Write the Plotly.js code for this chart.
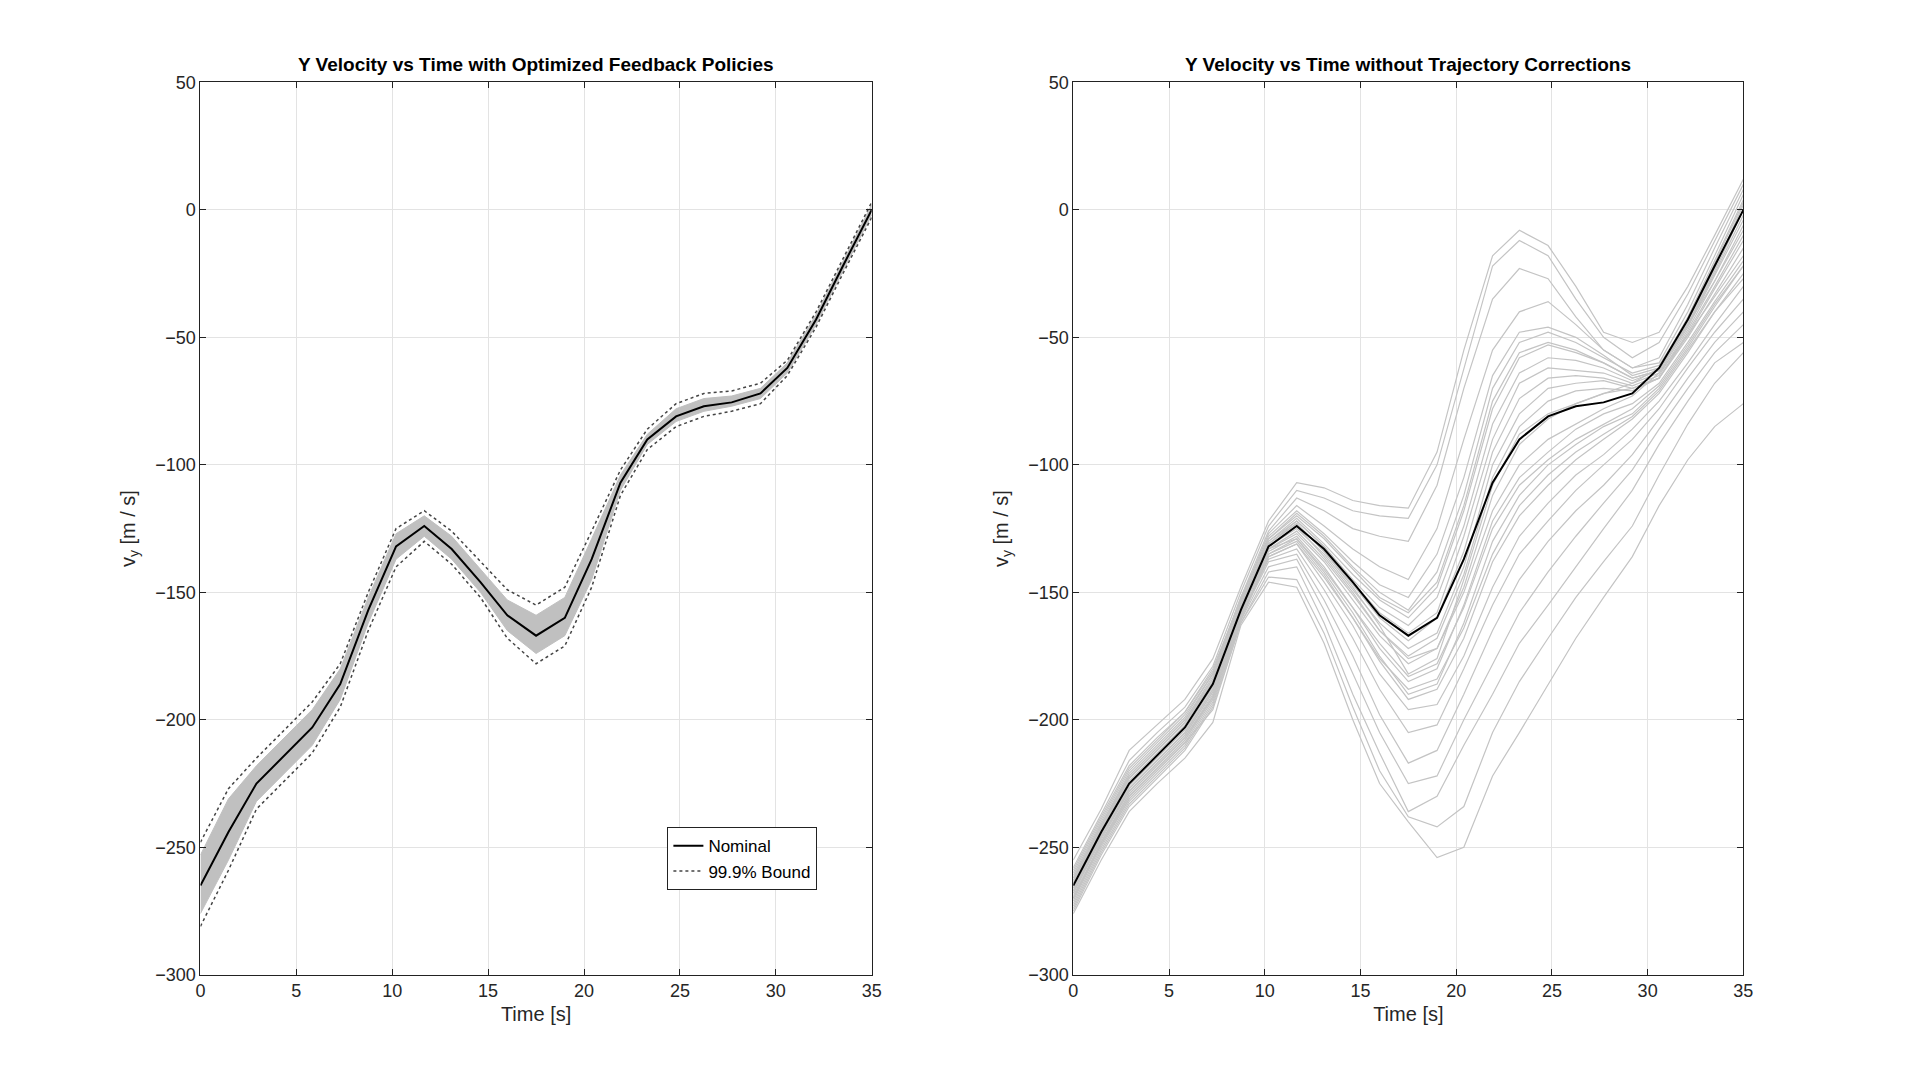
<!DOCTYPE html>
<html>
<head>
<meta charset="utf-8">
<script src="https://cdn.plot.ly/plotly-3.0.1.min.js"></script>
<style>html,body{margin:0;padding:0;background:#fff;}#chart{width:1920px;height:1091px;}</style>
</head>
<body>
<div id="chart"></div>
<script>
// time samples (s)
const TIME = [0, 1.46, 2.92, 4.38, 5.83, 7.29, 8.75, 10.2, 11.67, 13.1, 14.6, 16.0, 17.5,
              19.0, 20.4, 21.9, 23.3, 24.8, 26.25, 27.7, 29.2, 30.6, 32.1, 33.5, 35];

// nominal trajectory
const NOMINAL = [-265, -244, -225, -214, -203, -186, -157, -132, -124, -133, -146, -159, -167,
                 -160, -137, -107, -90, -81, -77, -75.5, -72, -62, -43, -22, 0];

// 99.9% bounds (left panel)
const BOUND_UP = [-248, -227, -215, -204, -193, -178, -150, -125, -118, -126, -138, -149, -155,
                  -148, -126, -102, -86, -76, -72, -71, -68, -59, -40, -19, 3];
const BOUND_LO = [-281, -259, -235, -224, -213, -195, -165, -140, -130, -139, -152, -168, -178,
                  -171, -148, -112, -94, -85, -81, -79, -76, -65, -46, -25, -3];

// dense Monte Carlo band with feedback (left panel)
const BAND_UP = [-253, -231, -218, -207, -196, -180, -152, -127, -120, -128, -141, -153, -159,
                 -152, -129, -104, -88, -78, -74, -73, -70, -60, -41, -20, 2];
const BAND_LO = [-276, -255, -232, -221, -210, -192, -162, -137, -128, -137, -150, -165, -174,
                 -167, -145, -110, -92, -83, -79, -77, -74, -64, -45, -24, -2];

// open-loop Monte Carlo runs (right panel)
const RUNS = [
  [-255,-235,-212,-202,-192,-176,-148,-122,-107,-109,-114,-116,-117,-95,-55,-18,-8,-14,-30,-48,-52,-48,-30,-10,12],
  [-258,-237,-216,-205,-195,-179,-150,-124,-110,-113,-118,-120,-121,-100,-62,-22,-12,-18,-35,-50,-58,-52,-33,-12,10],
  [-260,-239,-219,-208,-197,-181,-152,-126,-113,-118,-125,-128,-130,-108,-70,-35,-23,-27,-42,-55,-62,-58,-37,-15,8],
  [-262,-241,-221,-210,-199,-182,-153,-127,-116,-124,-133,-140,-145,-125,-90,-55,-40,-36,-45,-55,-62,-60,-40,-18,6],
  [-263,-242,-222,-211,-200,-183,-154,-128,-118,-127,-138,-147,-152,-135,-105,-65,-48,-46,-50,-57,-65,-62,-42,-20,4],
  [-266,-245,-226,-215,-204,-187,-156,-130,-121,-131,-143,-153,-160,-148,-118,-78,-58,-53,-56,-60,-66,-63,-44,-23,2],
  [-268,-247,-228,-217,-206,-189,-158,-131,-122,-132,-146,-158,-166,-158,-128,-90,-68,-62,-63,-64,-68,-64,-46,-26,-4],
  [-270,-248,-229,-218,-207,-190,-159,-132,-125,-135,-149,-162,-172,-166,-140,-100,-80,-70,-68,-67,-70,-66,-48,-30,-10],
  [-264,-243,-224,-213,-202,-185,-157,-133,-127,-138,-153,-167,-178,-172,-148,-112,-92,-82,-76,-72,-70,-66,-50,-33,-15],
  [-267,-246,-227,-216,-205,-188,-158,-134,-128,-140,-156,-172,-185,-180,-155,-122,-105,-95,-86,-80,-76,-68,-52,-36,-20],
  [-272,-250,-231,-220,-209,-192,-160,-135,-130,-143,-160,-177,-192,-188,-168,-138,-120,-108,-98,-90,-82,-72,-56,-40,-25],
  [-259,-238,-218,-207,-197,-180,-153,-133,-129,-142,-158,-175,-190,-186,-162,-130,-112,-100,-92,-85,-80,-70,-54,-38,-22],
  [-274,-252,-233,-222,-211,-194,-161,-136,-131,-146,-163,-182,-196,-194,-175,-148,-128,-115,-104,-96,-86,-75,-60,-45,-30],
  [-271,-249,-230,-219,-208,-191,-159,-137,-133,-149,-168,-188,-205,-202,-180,-155,-135,-122,-110,-100,-90,-78,-62,-48,-35],
  [-269,-248,-229,-218,-207,-191,-160,-138,-135,-153,-175,-198,-217,-212,-190,-165,-145,-130,-118,-108,-96,-82,-66,-52,-40],
  [-273,-251,-232,-221,-210,-193,-161,-140,-137,-157,-182,-205,-225,-222,-200,-178,-158,-142,-128,-115,-102,-86,-70,-56,-45],
  [-275,-253,-234,-223,-212,-195,-162,-142,-140,-162,-190,-213,-236,-230,-210,-190,-170,-155,-140,-125,-110,-92,-75,-60,-52],
  [-276,-255,-236,-225,-215,-201,-163,-146,-148,-170,-200,-225,-240,-254,-250,-222,-205,-186,-168,-152,-136,-116,-98,-85,-76],
  [-270,-249,-231,-220,-209,-196,-162,-144,-145,-166,-195,-220,-238,-242,-234,-205,-185,-168,-152,-138,-124,-104,-84,-68,-56],
  [-261,-240,-220,-209,-198,-182,-152,-129,-119,-128,-140,-150,-157,-142,-112,-70,-52,-48,-52,-58,-64,-61,-43,-21,3],
  [-265,-244,-225,-214,-203,-186,-157,-132,-124,-136,-150,-165,-176,-172,-150,-118,-100,-90,-84,-78,-73,-64,-49,-34,-18],
  [-263,-242,-223,-212,-201,-184,-155,-131,-123,-134,-148,-163,-182,-176,-145,-108,-88,-80,-76,-72,-68,-62,-45,-28,-8],
  [-262,-241,-222,-211,-200,-184,-155,-129,-120,-129,-141,-152,-158,-146,-116,-75,-56,-52,-55,-60,-66,-63,-45,-24,0],
  [-264,-243,-223,-212,-201,-185,-156,-130,-122,-132,-145,-156,-163,-152,-124,-84,-64,-58,-59,-62,-67,-63,-45,-25,-2],
  [-266,-245,-225,-214,-203,-186,-157,-131,-123,-134,-147,-160,-169,-160,-134,-95,-74,-66,-65,-66,-69,-65,-47,-28,-6],
  [-268,-246,-227,-216,-205,-188,-158,-133,-126,-137,-151,-165,-175,-168,-143,-105,-85,-75,-71,-70,-71,-66,-49,-31,-12],
  [-267,-246,-228,-217,-206,-189,-158,-135,-129,-141,-156,-170,-183,-178,-156,-125,-108,-98,-90,-84,-78,-69,-53,-37,-22],
  [-270,-248,-230,-219,-208,-191,-160,-136,-131,-144,-160,-176,-188,-184,-164,-135,-116,-104,-95,-88,-81,-71,-55,-40,-27]
];

const FONT = 'Liberation Sans, Arial, sans-serif';
const GREY = '#c4c4c4';

const traces = [
  // left panel: Monte Carlo band
  { x: TIME, y: BAND_LO, xaxis: 'x', yaxis: 'y', mode: 'lines',
    line: { color: '#c0c0c0', width: 1 }, showlegend: false, hoverinfo: 'skip' },
  { x: TIME, y: BAND_UP, xaxis: 'x', yaxis: 'y', mode: 'lines', fill: 'tonexty',
    fillcolor: '#c0c0c0', line: { color: '#c0c0c0', width: 1 }, showlegend: false, hoverinfo: 'skip' },
  { x: TIME, y: NOMINAL, xaxis: 'x', yaxis: 'y', mode: 'lines', name: 'Nominal',
    line: { color: '#000', width: 2 } },
  { x: TIME, y: BOUND_UP, xaxis: 'x', yaxis: 'y', mode: 'lines', name: '99.9% Bound',
    line: { color: '#444', width: 1.5, dash: 'dot' } },
  { x: TIME, y: BOUND_LO, xaxis: 'x', yaxis: 'y', mode: 'lines', showlegend: false,
    line: { color: '#444', width: 1.5, dash: 'dot' } },
];

// right panel: open-loop runs
RUNS.forEach(r => traces.push({
  x: TIME, y: r, xaxis: 'x2', yaxis: 'y2', mode: 'lines',
  line: { color: GREY, width: 1.2 }, showlegend: false, hoverinfo: 'skip'
}));
traces.push({ x: TIME, y: NOMINAL, xaxis: 'x2', yaxis: 'y2', mode: 'lines',
  line: { color: '#000', width: 2 }, showlegend: false });

function xAxis(domain, anchor) {
  return {
    domain, anchor, range: [0, 35], dtick: 5, tick0: 0,
    showgrid: true, gridcolor: '#e3e3e3', zeroline: false,
    showline: true, mirror: 'ticks', linecolor: '#222', linewidth: 1,
    ticks: 'inside', ticklen: 6, tickcolor: '#222',
    tickfont: { family: FONT, size: 18, color: '#262626' },
    title: { text: 'Time [s]', font: { family: FONT, size: 20, color: '#262626' }, standoff: 6 }
  };
}
function yAxis(anchor) {
  return {
    domain: [0.1065, 0.9245], anchor, range: [-300, 50], dtick: 50,
    showgrid: true, gridcolor: '#e3e3e3', zeroline: false,
    showline: true, mirror: 'ticks', linecolor: '#222', linewidth: 1,
    ticks: 'inside', ticklen: 6, tickcolor: '#222',
    tickfont: { family: FONT, size: 18, color: '#262626' },
    title: { text: 'v<sub>y</sub> [m / s]', font: { family: FONT, size: 20, color: '#262626' }, standoff: 14 }
  };
}

const layout = {
  width: 1920, height: 1091,
  margin: { l: 0, r: 0, t: 0, b: 0 },
  paper_bgcolor: '#fff', plot_bgcolor: '#fff',
  xaxis: xAxis([0.1044, 0.454], 'y'),
  yaxis: yAxis('x'),
  xaxis2: xAxis([0.559, 0.908], 'y2'),
  yaxis2: yAxis('x2'),
  showlegend: true,
  legend: {
    x: 0.3476, y: 0.2417, xanchor: 'left', yanchor: 'top', traceorder: 'normal',
    bgcolor: '#fff', bordercolor: '#222', borderwidth: 1,
    font: { family: FONT, size: 17, color: '#000' }, tracegroupgap: 0
  },
  annotations: [
    { text: '<b>Y Velocity vs Time with Optimized Feedback Policies</b>', xref: 'paper', yref: 'paper',
      x: 0.2792, y: 0.929, xanchor: 'center', yanchor: 'bottom', showarrow: false,
      font: { family: FONT, size: 19, color: '#000' } },
    { text: '<b>Y Velocity vs Time without Trajectory Corrections</b>', xref: 'paper', yref: 'paper',
      x: 0.7335, y: 0.929, xanchor: 'center', yanchor: 'bottom', showarrow: false,
      font: { family: FONT, size: 19, color: '#000' } }
  ]
};

Plotly.newPlot('chart', traces, layout, { displayModeBar: false, staticPlot: true });
</script>
</body>
</html>
